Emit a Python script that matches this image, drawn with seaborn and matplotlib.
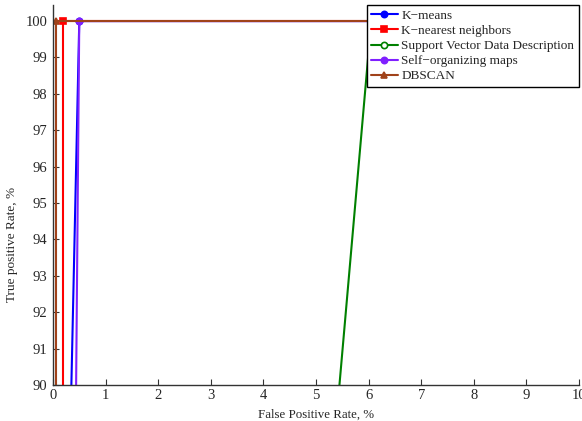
import matplotlib
matplotlib.use("Agg")
import matplotlib.pyplot as plt
import seaborn as sns

sns.set_theme(style="white")
plt.rcParams["font.family"] = ["Liberation Serif", "DejaVu Serif"]
plt.rcParams["axes.unicode_minus"] = True

# ROC points (false positive rate %, true positive rate %) for each detector
kmeans_fpr = [0.0, 0.2, 0.5, 100.0]
kmeans_tpr = [0.0, 80.0, 100.0, 100.0]

knn_fpr = [0.2, 0.2, 100.0]
knn_tpr = [0.0, 100.0, 100.0]

svdd_fpr = [0.0, 6.05, 100.0]
svdd_tpr = [0.0, 100.0, 100.0]

som_fpr = [0.0, 0.38, 0.5, 100.0]
som_tpr = [0.0, 80.0, 100.0, 100.0]

dbscan_fpr = [0.05, 0.05, 100.0]
dbscan_tpr = [0.0, 100.0, 100.0]

series = [
    ("K\u2212means", kmeans_fpr, kmeans_tpr, "#0000ff", "o", "#0000ff"),
    ("K\u2212nearest neighbors", knn_fpr, knn_tpr, "#ff0000", "s", "#ff0000"),
    ("Support Vector Data Description", svdd_fpr, svdd_tpr, "#008000", "o", "white"),
    ("Self\u2212organizing maps", som_fpr, som_tpr, "#8020ff", "o", "#8020ff"),
    ("DBSCAN", dbscan_fpr, dbscan_tpr, "#a0421a", "^", "#a0421a"),
]

fig = plt.figure(figsize=(5.82, 4.21), dpi=100)
ax = fig.add_axes([0.091, 0.0855, 0.904, 0.9025])

for label, xs, ys, color, marker, face in series:
    sns.lineplot(x=xs, y=ys, ax=ax, sort=False, estimator=None, color=color,
                 linewidth=1.5, marker=marker, markersize=4.5,
                 markerfacecolor=face, markeredgecolor=color,
                 markeredgewidth=1.2, label=label)

ax.set_xlim(0, 10)
ax.set_ylim(90, 100.44)
ax.set_xticks(range(0, 11))
ax.set_yticks(range(90, 101))
ax.tick_params(direction="in", length=4, width=0.8, color="#333333",
               labelsize=10.5, bottom=True, left=True)
ax.tick_params(axis="x", pad=3)
ax.tick_params(axis="y", pad=4)
for side in ("top", "right"):
    ax.spines[side].set_visible(False)
for side in ("left", "bottom"):
    ax.spines[side].set_color("#333333")
    ax.spines[side].set_linewidth(1.0)

ax.set_xlabel("False Positive Rate, %", fontsize=9.3)
ax.xaxis.set_label_coords(0.5, -0.062)
ax.set_ylabel("True positive Rate, %", fontsize=9.5)
ax.yaxis.set_label_coords(-0.067, 0.37)

leg = ax.legend(loc="upper right", bbox_to_anchor=(1.0, 1.0), borderaxespad=0,
                fontsize=9.5, frameon=True, fancybox=False, framealpha=1,
                edgecolor="black", handlelength=2.0, handletextpad=0.3,
                labelspacing=0.22, borderpad=0.35)
leg.get_frame().set_linewidth(1.0)

fig.savefig("out.png", dpi=100)
